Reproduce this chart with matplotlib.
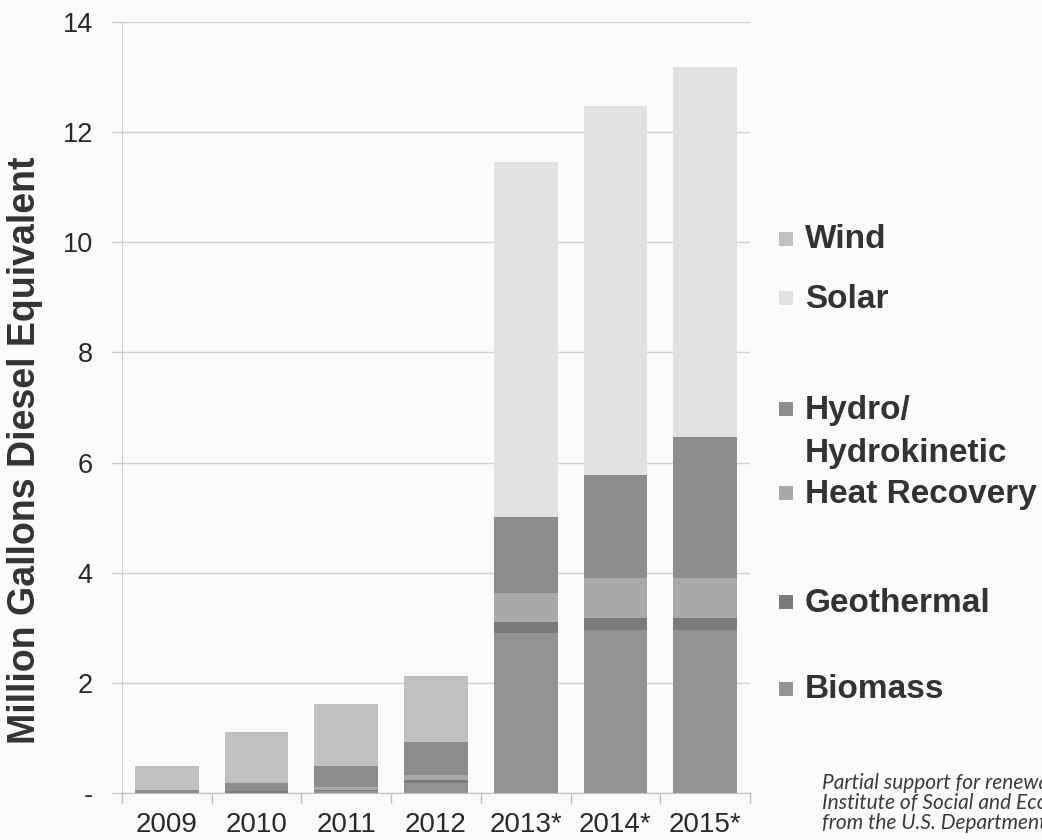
import matplotlib
matplotlib.use("Agg")
import matplotlib.pyplot as plt
from matplotlib.patches import Rectangle
import numpy as np

plt.rcParams['font.family'] = ['Liberation Sans', 'DejaVu Sans']

# Renewable generation by source, million gallons diesel equivalent
years = ['2009', '2010', '2011', '2012', '2013*', '2014*', '2015*']
biomass = [0.00, 0.00, 0.03, 0.18, 2.91, 2.96, 2.96]
geothermal = [0.00, 0.03, 0.03, 0.06, 0.20, 0.22, 0.22]
heat_recovery = [0.00, 0.00, 0.04, 0.09, 0.53, 0.72, 0.72]
hydro = [0.05, 0.15, 0.39, 0.60, 1.38, 1.88, 2.57]
solar = [0.00, 0.00, 0.00, 0.00, 6.43, 6.69, 6.71]
wind = [0.44, 0.93, 1.13, 1.20, 0.00, 0.00, 0.00]

y_ticks = [0, 2, 4, 6, 8, 10, 12, 14]
y_tick_labels = ['-', '2', '4', '6', '8', '10', '12', '14']

series = [
    ('Biomass', biomass, '#939393'),
    ('Geothermal', geothermal, '#7b7b7b'),
    ('Heat Recovery', heat_recovery, '#a9a9a9'),
    ('Hydro/\nHydrokinetic', hydro, '#8d8d8d'),
    ('Solar', solar, '#e2e2e2'),
    ('Wind', wind, '#c0c0c0'),
]

W, H = 1042, 840
fig = plt.figure(figsize=(W / 100, H / 100), dpi=100, facecolor='#fbfbfb')
ax = fig.add_axes([122 / W, 1 - 793 / H, (750 - 122) / W, (793 - 22) / H])
ax.set_facecolor('none')

x = np.arange(len(years))
bottom = np.zeros(len(years))
for name, vals, col in series:
    v = np.array(vals)
    ax.bar(x, v, width=0.71, bottom=bottom, color=col, edgecolor='none', zorder=3)
    bottom += v

ax.set_xlim(-0.5, len(years) - 0.5)
ax.set_ylim(0, 14)

# horizontal gridlines
ax.set_yticks(y_ticks)
ax.set_yticklabels(y_tick_labels)
ax.grid(axis='y', color='#d2d2d2', linewidth=1.0, zorder=0)
ax.tick_params(axis='y', length=7, width=1, color='#c8c8c8', pad=14,
               labelsize=19.5, labelcolor='#2a2a2a')

# category labels in the middle, tick marks at the boundaries
ax.set_xticks(x)
ax.set_xticklabels(years)
ax.tick_params(axis='x', length=0, pad=14, labelsize=20, labelcolor='#2a2a2a')
ax.set_xticks(np.arange(-0.5, len(years)), minor=True)
ax.tick_params(axis='x', which='minor', length=7, width=1, color='#bdbdbd')

for s in ['top', 'right']:
    ax.spines[s].set_visible(False)
ax.spines['left'].set_color('#cfcfcf')
ax.spines['bottom'].set_color('#bdbdbd')
ax.spines['left'].set_zorder(4)
ax.spines['bottom'].set_zorder(4)

# axis title
fig.text(25 / W, 1 - 450 / H, 'Million Gallons Diesel Equivalent', rotation=90,
         ha='center', va='center', fontsize=27, fontweight='bold', color='#333333')

# hand-placed legend entries on the right
legend_y = {'Wind': 240, 'Solar': 299, 'Hydro/\nHydrokinetic': 410,
            'Heat Recovery': 494, 'Geothermal': 603, 'Biomass': 690}
for name, vals, col in series:
    yp = legend_y[name]
    fig.add_artist(Rectangle((779 / W, 1 - (yp + 6) / H), 14 / W, 14 / H,
                             transform=fig.transFigure, facecolor=col,
                             edgecolor='none'))
    if '\n' in name:
        fig.text(805 / W, 1 - (yp - 15) / H, name, fontsize=24, fontweight='bold',
                 color='#333333', va='top', linespacing=1.5)
    else:
        fig.text(805 / W, 1 - yp / H, name, fontsize=24, fontweight='bold',
                 color='#333333', va='center')

# source note, running off the right edge
note = ("Partial support for renewable energy data provided by the\n"
        "Institute of Social and Economic Research, with funding\n"
        "from the U.S. Department of Energy")
fig.text(822 / W, 1 - 773 / H, note, fontsize=15, style='italic',
         family=['Lato', 'DejaVu Sans'], color='#3a3a3a', va='top',
         linespacing=1.0)

fig.savefig('out.png', dpi=100, facecolor=fig.get_facecolor())
